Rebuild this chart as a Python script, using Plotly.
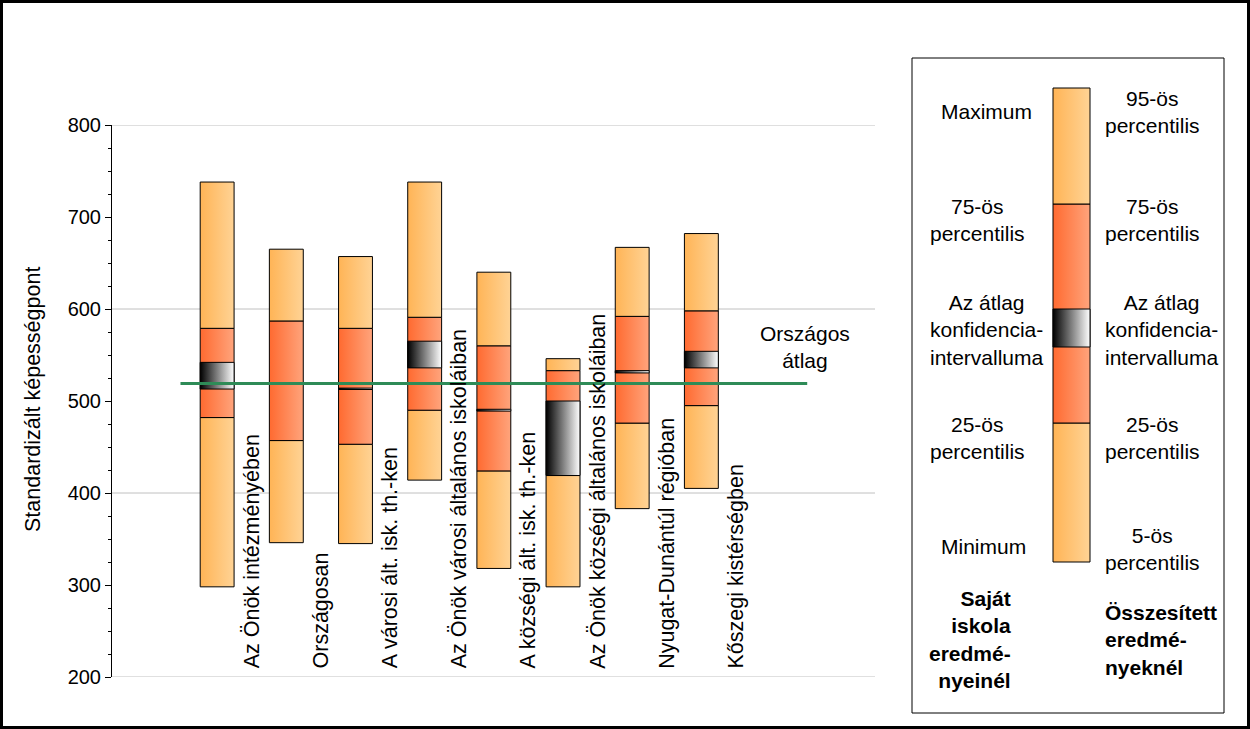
import plotly.graph_objects as go

# ---------------- data ----------------
categories = [
    "Az Önök intézményében",
    "Országosan",
    "A városi ált. isk. th.-ken",
    "Az Önök városi általános iskoláiban",
    "A községi ált. isk. th.-ken",
    "Az Önök községi általános iskoláiban",
    "Nyugat-Dunántúl régióban",
    "Kőszegi kistérségben",
]
p_low = [298, 346, 345, 414, 318, 298, 383, 405]      # minimum / 5th percentile
p25 = [482, 457, 453, 490, 424, 419, 476, 495]
p75 = [579, 587, 579, 591, 560, 533, 592, 598]
p_high = [738, 665, 657, 738, 640, 546, 667, 682]     # maximum / 95th percentile
ci_low = [513, 518.5, 512.5, 536, 489, 419, 530.5, 536]
ci_high = [542, 519.5, 514, 565, 491, 500, 533, 554]

national_avg = 519
national_line_x = [-0.53, 8.53]
grid_values = [200, 400, 600, 800]
y_ticks = [200, 300, 400, 500, 600, 700, 800]

# legend sample bar (values in legend-axis units)
legend_sample = {"low": 0, "p25": 139, "ci_low": 215, "ci_high": 253, "p75": 358, "high": 474}

# ---------------- styles ----------------
FONT = "Liberation Sans, Arial, sans-serif"
LIGHT = [[0, "#FFB456"], [1, "#FFD395"]]
RED = [[0, "#FF6A30"], [1, "#FFA47C"]]
CI = [[0, "#000000"], [1, "#FFFFFF"]]
BAR_W = 0.49

fig = go.Figure()


def seg(x, y0, y1, cs, w, xa="x", ya="y"):
    fig.add_trace(go.Scatter(
        x=[x - w / 2, x + w / 2, x + w / 2, x - w / 2, x - w / 2],
        y=[y0, y0, y1, y1, y0],
        mode="lines", fill="toself",
        fillgradient=dict(type="horizontal", colorscale=cs),
        line=dict(color="black", width=1),
        xaxis=xa, yaxis=ya, hoverinfo="skip", showlegend=False,
    ))


for i in range(len(categories)):
    seg(i, p_low[i], p25[i], LIGHT, BAR_W)
    seg(i, p25[i], p75[i], RED, BAR_W)
    seg(i, p75[i], p_high[i], LIGHT, BAR_W)
    seg(i, ci_low[i], ci_high[i], CI, BAR_W)

# national average line
fig.add_trace(go.Scatter(
    x=national_line_x, y=[national_avg, national_avg], mode="lines",
    line=dict(color="#2E8B57", width=3), hoverinfo="skip", showlegend=False,
))

# legend sample bar
LX = 159.5
LW = 37
ls = legend_sample
seg(LX, ls["low"], ls["p25"], LIGHT, LW, "x2", "y2")
seg(LX, ls["p25"], ls["p75"], RED, LW, "x2", "y2")
seg(LX, ls["p75"], ls["high"], LIGHT, LW, "x2", "y2")
seg(LX, ls["ci_low"], ls["ci_high"], CI, LW, "x2", "y2")

shapes = []
for g in grid_values:
    shapes.append(dict(type="line", xref="x domain", yref="y", x0=0, x1=1, y0=g, y1=g,
                       line=dict(color="#C0C0C0", width=1), layer="below"))
# legend box
shapes.append(dict(type="rect", xref="x2 domain", yref="y2 domain", x0=0, x1=1, y0=0, y1=1,
                   line=dict(color="black", width=1)))
# outer frame
shapes.append(dict(type="rect", xref="paper", yref="paper",
                   x0=1.5 / 1250, x1=1 - 1.5 / 1250, y0=1.5 / 729, y1=1 - 1.5 / 729,
                   line=dict(color="black", width=3)))

CAT_FS = 21.5
LEG_FS = 21
ann = []
for i, c in enumerate(categories):
    ann.append(dict(x=i + 0.5, y=207, xref="x", yref="y", text=c, textangle=-90,
                    showarrow=False, xanchor="center", yanchor="bottom",
                    font=dict(family=FONT, size=CAT_FS, color="black")))
ann.append(dict(x=8.5, y=559, xref="x", yref="y", text="Országos<br>átlag",
                showarrow=False, xanchor="center", yanchor="middle",
                font=dict(family=FONT, size=LEG_FS, color="black")))
ann.append(dict(x=33 / 1250, y=1 - 400 / 729, xref="paper", yref="paper",
                text="Standardizált képességpont", textangle=-90, showarrow=False,
                xanchor="center", yanchor="middle",
                font=dict(family=FONT, size=21.5, color="black")))

legend_texts = [
    (74, 451, "Maximum", "center"),
    (65, 342.5, "75-ös<br>percentilis", "center"),
    (75, 232, "Az átlag<br>konfidencia-<br>intervalluma", "center"),
    (65, 124, "25-ös<br>percentilis", "center"),
    (71, 15.5, "Minimum", "center"),
    (101, -77, "<b>Saját<br>iskola<br>eredmé-<br>nyeinél</b>", "right"),
    (240, 450.5, "95-ös<br>percentilis", "center"),
    (240, 342.5, "75-ös<br>percentilis", "center"),
    (250, 232, "Az átlag<br>konfidencia-<br>intervalluma", "center"),
    (240, 124, "25-ös<br>percentilis", "center"),
    (240, 13.5, "5-ös<br>percentilis", "center"),
    (191, -78, "<b>Összesített<br>eredmé-<br>nyeknél</b>", "left"),
]
for x, y, t, al in legend_texts:
    ann.append(dict(x=x, y=y, xref="x2", yref="y2", text=t, showarrow=False,
                    xanchor=al, align=al, yanchor="middle",
                    font=dict(family=FONT, size=LEG_FS, color="black")))

fig.update_layout(
    width=1250, height=729,
    autosize=False,
    margin=dict(l=0, r=0, t=0, b=0, pad=0),
    paper_bgcolor="white", plot_bgcolor="white",
    showlegend=False,
    xaxis=dict(domain=[112 / 1250, 875 / 1250], range=[-1.52, 9.51], visible=False,
               automargin=False),
    yaxis=dict(domain=[52 / 729, 604 / 729], range=[200, 800], automargin=False,
               tickvals=y_ticks, showgrid=False, zeroline=False,
               showline=True, linecolor="black", linewidth=1,
               ticks="outside", ticklen=6, tickcolor="black",
               minor=dict(dtick=25, ticks="outside", ticklen=3, tickcolor="black", showgrid=False),
               tickfont=dict(family=FONT, size=20, color="black")),
    xaxis2=dict(domain=[912 / 1250, 1224 / 1250], range=[0, 312], visible=False,
                anchor="y2", automargin=False),
    yaxis2=dict(domain=[16 / 729, 671 / 729], range=[-151, 504], visible=False,
                anchor="x2", automargin=False),
    shapes=shapes,
    annotations=ann,
)

fig.write_html(
    "out.html",
    config={"displayModeBar": False},
    post_script="document.body.style.margin='0';document.body.style.overflow='hidden';",
)
